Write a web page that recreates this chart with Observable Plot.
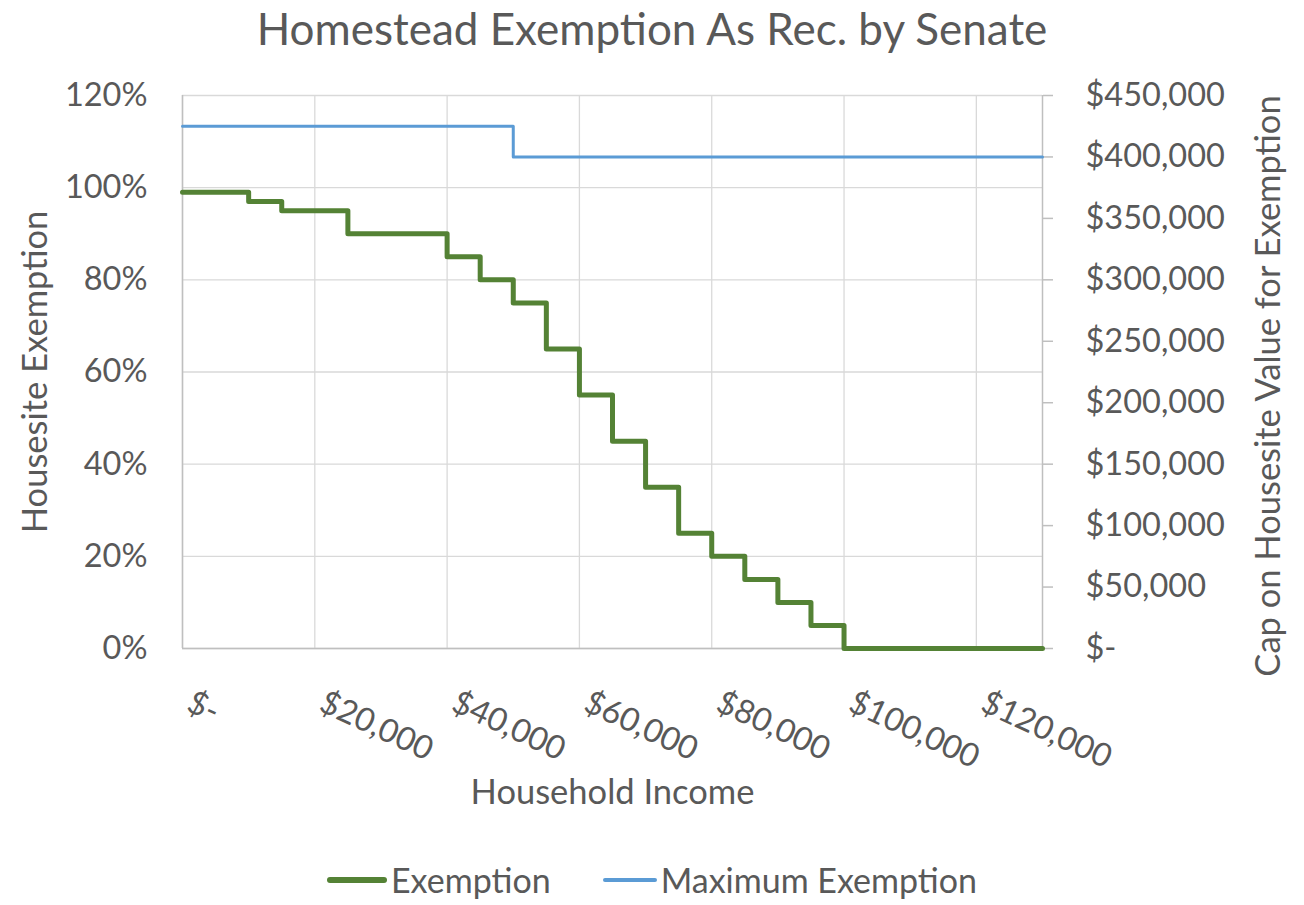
<!DOCTYPE html>
<html>
<head>
<meta charset="utf-8">
<script src="https://cdn.jsdelivr.net/npm/d3@7"></script>
<script src="https://cdn.jsdelivr.net/npm/@observablehq/plot@0.6"></script>
<style>
  html, body { margin: 0; padding: 0; background: #fff; }
  #wrap { position: relative; width: 1304px; height: 905px; font-family: Lato, sans-serif; color: #595959; }
  #title { position: absolute; left: 0; width: 1304px; top: 2px; text-align: center; font-size: 44px; }
  #legend { position: absolute; left: 0; width: 1304px; top: 862px; height: 36px; line-height: 36px; display: flex; justify-content: center; align-items: center; font-size: 34px; }
  .item { display: flex; align-items: center; margin: 0 26px; line-height: 36px; }
  .sw { display: inline-block; width: 60px; margin-right: 4px; border-radius: 3px; }
</style>
</head>
<body>
<div id="wrap">
  <div id="chart"></div>
  <div id="title">Homestead Exemption As Rec. by Senate</div>
  <div id="legend">
    <div class="item"><span class="sw" style="height:6px;background:#548235"></span>Exemption</div>
    <div class="item"><span class="sw" style="height:4px;background:#5b9bd5;width:54px"></span>Maximum Exemption</div>
  </div>
</div>
<script>
// Income break points (start of each step) and exemption share
const incomeSteps = [0, 10000, 15000, 25000, 40000, 45000, 50000, 55000, 60000, 65000, 70000, 75000, 80000, 85000, 90000, 95000, 100000, 130000];
const exemptionPct = [0.99, 0.97, 0.95, 0.90, 0.85, 0.80, 0.75, 0.65, 0.55, 0.45, 0.35, 0.25, 0.20, 0.15, 0.10, 0.05, 0, 0];

// Maximum exemption cap (right axis)
const capIncome = [0, 50000, 130000];
const capValue = [425000, 400000, 400000];

// Axis ticks
const xTicks = [0, 20000, 40000, 60000, 80000, 100000, 120000];
const yTicks = [0, 0.2, 0.4, 0.6, 0.8, 1.0, 1.2];
const capTicks = [0, 50000, 100000, 150000, 200000, 250000, 300000, 350000, 400000, 450000];
const CAP_MAX = 450000, Y_MAX = 1.2;

const toY = v => v / CAP_MAX * Y_MAX;
const money = v => v === 0 ? "$-" : "$" + d3.format(",")(v);

const exemption = incomeSteps.map((x, i) => ({x, y: exemptionPct[i]}));
const cap = capIncome.map((x, i) => ({x, y: toY(capValue[i])}));

const W = 1304, H = 905;
const ink = "#595959", grid = "#d9d9d9", axisC = "#bfbfbf";

const chart = Plot.plot({
  width: W, height: H,
  marginLeft: 182, marginRight: 262, marginTop: 95, marginBottom: H - 648,
  style: {fontFamily: "Lato, sans-serif", background: "#fff"},
  x: {domain: [0, 130000], axis: null},
  y: {domain: [0, Y_MAX]},
  marks: [
    Plot.gridX(xTicks, {stroke: grid, strokeOpacity: 1, strokeWidth: 1.3}),
    Plot.gridY(yTicks, {stroke: grid, strokeOpacity: 1, strokeWidth: 1.3}),
    Plot.ruleX([0], {stroke: axisC, strokeWidth: 1.5}),
    Plot.ruleY([0], {stroke: axisC, strokeWidth: 1.5}),
    Plot.ruleX([130000], {stroke: axisC, strokeWidth: 1.5}),
    // left axis
    Plot.axisY(yTicks, {anchor: "left", tickSize: 0, tickPadding: 35, tickFormat: d => Math.round(d * 100) + "%", fontSize: 32.5, color: ink, label: null}),
    // right axis ticks + labels
    Plot.axisY(capTicks.map(toY), {anchor: "right", tickSize: 10, tickFormat: () => "", color: axisC, strokeWidth: 1.5, label: null}),
    Plot.axisY(capTicks.map(toY), {anchor: "right", tickSize: 0, tickPadding: 43, textAnchor: "start", tickFormat: d => money(Math.round(d / Y_MAX * CAP_MAX)), fontSize: 32.5, color: ink, label: null}),
    // x tick labels rotated
    Plot.text(xTicks, {x: d => d, text: d => money(d), frameAnchor: "bottom", dy: 52, dx: 7, rotate: 25, textAnchor: "start", lineAnchor: "middle", fontSize: 32.5, fill: ink}),
    // axis titles
    Plot.text(["Household Income"], {frameAnchor: "bottom", dy: 155, fontSize: 34.5, fill: ink}),
    Plot.text(["Housesite Exemption"], {frameAnchor: "left", dx: -147, rotate: -90, textAnchor: "middle", fontSize: 34.5, fill: ink}),
    Plot.text(["Cap on Housesite Value for Exemption"], {frameAnchor: "right", dx: 226, dy: 14, rotate: -90, textAnchor: "middle", fontSize: 34.5, fill: ink}),
    // series
    Plot.line(cap, {x: "x", y: "y", curve: "step-after", stroke: "#5b9bd5", strokeWidth: 3}),
    Plot.line(exemption, {x: "x", y: "y", curve: "step-after", stroke: "#548235", strokeWidth: 5, strokeLinejoin: "round", strokeLinecap: "round"})
  ]
});
document.getElementById("chart").appendChild(chart);
</script>
</body>
</html>
